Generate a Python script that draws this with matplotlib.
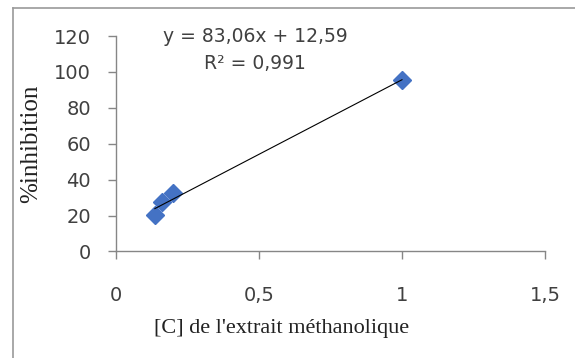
import matplotlib.pyplot as plt
from matplotlib.lines import Line2D

# concentration of the methanolic extract vs. % inhibition
conc = [0.136, 0.16, 0.2, 1.0]
inhib = [20.5, 27.5, 32.5, 95.5]

slope = 83.06
intercept = 12.59
r2 = 0.991

x_ticks = [0, 0.5, 1, 1.5]
x_labels = ["0", "0,5", "1", "1,5"]
y_ticks = [0, 20, 40, 60, 80, 100, 120]

fig = plt.figure(figsize=(5.75, 3.58), dpi=100)
ax = fig.add_axes([0.2017, 0.2975, 0.7461, 0.6019])

ax.plot(conc, inhib, linestyle="none", marker="D", markersize=9,
        color="#4472C4", zorder=3)

# linear trend line
x0, x1 = min(conc), max(conc)
ax.plot([x0, x1], [slope * x0 + intercept, slope * x1 + intercept],
        color="black", linewidth=0.8, zorder=4)

ax.set_xlim(0, 1.5)
ax.set_ylim(0, 120)
ax.set_xticks(x_ticks)
ax.set_xticklabels(x_labels)
ax.set_yticks(y_ticks)

for side in ["top", "right"]:
    ax.spines[side].set_visible(False)
for side in ["left", "bottom"]:
    ax.spines[side].set_color("#868686")
    ax.spines[side].set_linewidth(1)

ax.tick_params(axis="both", colors="#868686", length=6, width=1,
               labelcolor="#404040", labelsize=14)
ax.tick_params(axis="x", pad=19)
ax.tick_params(axis="y", pad=12)
for lab in ax.get_xticklabels() + ax.get_yticklabels():
    lab.set_family("DejaVu Sans")

ax.set_xlabel("[C] de l'extrait méthanolique", family="Liberation Serif",
              fontsize=16, color="#222222")
ax.xaxis.set_label_coords(0.387, -0.315)
ax.set_ylabel("%inhibition", family="Liberation Serif", fontsize=18,
              color="#222222")
ax.yaxis.set_label_coords(-0.172, 0.5)

eq = f"y = {slope:.2f}x + {intercept:.2f}".replace(".", ",")
ax.text(0.486, 120, eq, family="DejaVu Sans", fontsize=13.5,
        color="#404040", ha="center", va="center")
ax.text(0.486, 104.6, f"R² = {r2:.3f}".replace(".", ","),
        family="DejaVu Sans", fontsize=13.5, color="#404040",
        ha="center", va="center")

# outer chart frame
fx, fy = 13 / 575, 1 - 8 / 358
fig.add_artist(Line2D([fx, fx], [0, fy], transform=fig.transFigure,
                      color="#9a9a9a", linewidth=1.2))
fig.add_artist(Line2D([fx, 1], [fy, fy], transform=fig.transFigure,
                      color="#9a9a9a", linewidth=1.2))

fig.savefig("out.png", dpi=100)
